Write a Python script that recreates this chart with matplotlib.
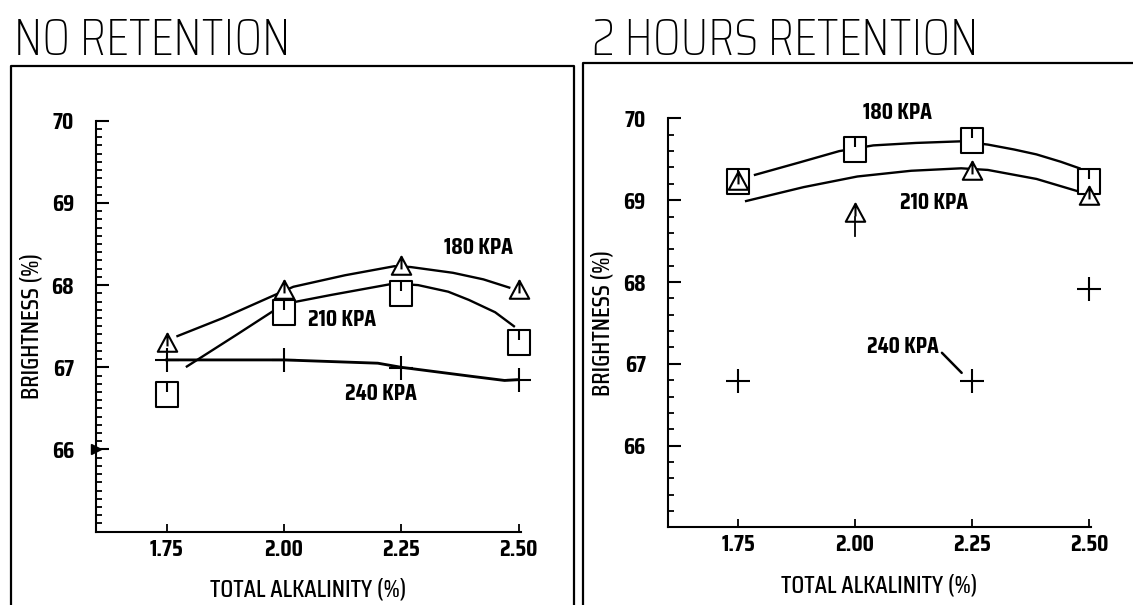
import matplotlib
matplotlib.use("Agg")
import matplotlib.pyplot as plt
from matplotlib import font_manager
from matplotlib.path import Path
from matplotlib.lines import Line2D
from matplotlib.ticker import MultipleLocator, FormatStrFormatter

# --- Measured brightness values (%) vs total alkalinity (%) ---
alkalinity = [1.75, 2.00, 2.25, 2.50]

# no retention
nr_180 = [67.30, 67.94, 68.23, 67.94]
nr_210 = [66.68, 67.67, 67.90, 67.31]
nr_240 = [67.09, 67.09, 66.99, 66.85]

# 2 hours retention (no 2.00 point for 240 kPa)
hr_180 = [69.23, 69.63, 69.74, 69.24]
hr_210 = [69.24, 68.84, 69.36, 69.05]
hr_240_x = [1.75, 2.25, 2.50]
hr_240 = [66.79, 66.79, 67.92]

# hand-drawn trend curves
nr_180_cx = [1.773, 1.87, 2.00, 2.02, 2.13, 2.235, 2.27, 2.36, 2.425, 2.48]
nr_180_cy = [67.38, 67.60, 67.93, 67.98, 68.12, 68.23, 68.22, 68.15, 68.07, 67.97]
nr_210_cx = [1.793, 1.90, 2.00, 2.10, 2.235, 2.286, 2.35, 2.394, 2.45, 2.49]
nr_210_cy = [67.01, 67.40, 67.77, 67.88, 68.02, 68.00, 67.92, 67.82, 67.67, 67.50]
nr_240_cx = [1.75, 1.95, 2.00, 2.20, 2.25, 2.40, 2.47, 2.50]
nr_240_cy = [67.09, 67.09, 67.09, 67.05, 67.00, 66.89, 66.84, 66.85]

hr_180_cx = [1.786, 1.88, 1.966, 2.039, 2.13, 2.227, 2.284, 2.34, 2.388, 2.44, 2.48]
hr_180_cy = [69.31, 69.46, 69.60, 69.67, 69.70, 69.72, 69.68, 69.62, 69.56, 69.47, 69.39]
hr_210_cx = [1.767, 1.89, 2.005, 2.12, 2.227, 2.284, 2.388, 2.488]
hr_210_cy = [68.99, 69.16, 69.29, 69.36, 69.39, 69.37, 69.26, 69.09]

titles = ["NO RETENTION", "2 HOURS RETENTION"]

# --- Fonts: condensed face if present, else shrink DejaVu ---
available = {f.name for f in font_manager.fontManager.ttflist}
if "Saira Condensed" in available:
    FONT, k = "Saira Condensed", 1.0
else:
    FONT, k = "DejaVu Sans", 0.8
plt.rcParams["font.family"] = [FONT, "DejaVu Sans"]

# plotter-style markers with a small pointer stroke
tri_marker = Path(
    [(-1, -0.85), (1, -0.85), (0, 1), (-1, -0.85), (0, 1), (0, -0.3)],
    [Path.MOVETO, Path.LINETO, Path.LINETO, Path.CLOSEPOLY, Path.MOVETO, Path.LINETO],
)
sq_marker = Path(
    [(-0.85, -1), (0.85, -1), (0.85, 1), (-0.85, 1), (-0.85, -1), (0, 1), (0, 0.15)],
    [Path.MOVETO, Path.LINETO, Path.LINETO, Path.LINETO, Path.CLOSEPOLY, Path.MOVETO, Path.LINETO],
)

LW = 1.7
tri_kw = dict(marker=tri_marker, ms=14, mfc="white", mec="black", mew=1.5, ls="none",
              zorder=4, clip_on=False)
sq_kw = dict(marker=sq_marker, ms=18, mfc="white", mec="black", mew=1.5, ls="none",
             zorder=3, clip_on=False)
plus_kw = dict(marker="+", ms=17, mec="black", mew=1.5, ls="none", zorder=4, clip_on=False)

fig = plt.figure(figsize=(11.33, 6.05), dpi=100)
ax1 = fig.add_axes([0.0850, 0.1212, 0.3748, 0.6792])
ax2 = fig.add_axes([0.5896, 0.1281, 0.3735, 0.6762])


def style_axes(ax, minor):
    ax.set_xlim(1.6, 2.505)
    ax.set_ylim(65, 70)
    ax.spines["top"].set_visible(False)
    ax.spines["right"].set_visible(False)
    for s in ("left", "bottom"):
        ax.spines[s].set_linewidth(1.5)
    ax.set_xticks(alkalinity)
    ax.xaxis.set_major_formatter(FormatStrFormatter("%.2f"))
    ax.set_yticks([66, 67, 68, 69, 70])
    ax.yaxis.set_minor_locator(MultipleLocator(minor))
    ax.tick_params(axis="y", which="major", direction="in", length=9, width=1.5, pad=16)
    ax.tick_params(axis="y", which="minor", direction="in", length=4, width=1.3)
    ax.tick_params(axis="x", which="major", direction="in", length=6, width=1.3, pad=5)
    for lab in ax.get_xticklabels() + ax.get_yticklabels():
        lab.set_fontsize(17 * k)
        lab.set_fontweight("bold")
    ax.set_xlabel("TOTAL ALKALINITY (%)", fontsize=18 * k, fontweight="medium", labelpad=12)
    ax.set_ylabel("BRIGHTNESS (%)", fontsize=18 * k, fontweight="medium", labelpad=6)


style_axes(ax1, 0.1)
style_axes(ax2, 0.2)

lab_kw = dict(fontsize=17 * k, fontweight="bold", ha="center", va="center")

# --- NO RETENTION ---
ax1.plot(nr_180_cx, nr_180_cy, color="black", lw=LW, zorder=2)
ax1.plot(nr_210_cx, nr_210_cy, color="black", lw=LW, zorder=2)
ax1.plot(nr_240_cx, nr_240_cy, color="black", lw=LW * 1.2, zorder=2)
ax1.plot(alkalinity, nr_210, **sq_kw)
ax1.plot(alkalinity, nr_180, **tri_kw)
ax1.plot(alkalinity, nr_240, **plus_kw)
ax1.plot([1.6], [66], marker=">", ms=7, color="black", clip_on=False, zorder=5)
ax1.text(2.414, 68.45, "180 KPA", **lab_kw)
ax1.text(2.124, 67.57, "210 KPA", **lab_kw)
ax1.text(2.206, 66.68, "240 KPA", **lab_kw)

# --- 2 HOURS RETENTION ---
ax2.plot(hr_180_cx, hr_180_cy, color="black", lw=LW, zorder=2)
ax2.plot(hr_210_cx, hr_210_cy, color="black", lw=LW, zorder=2)
ax2.plot(alkalinity, hr_180, **sq_kw)
ax2.plot(alkalinity, hr_210, **tri_kw)
ax2.plot([2.0, 2.0], [hr_210[1] - 0.05, hr_210[1] - 0.28], color="black", lw=1.3, zorder=4)
ax2.plot(hr_240_x, hr_240, **plus_kw)
ax2.text(2.09, 70.06, "180 KPA", **lab_kw)
ax2.text(2.17, 68.97, "210 KPA", **lab_kw)
ax2.annotate("240 KPA", xy=(2.228, 66.89), xytext=(2.103, 67.21),
             arrowprops=dict(arrowstyle="-", color="black", lw=1.8,
                             shrinkA=0, shrinkB=0, relpos=(1.0, 0.35)),
             **lab_kw)

# --- panel frames and headings ---
W, H = 1133, 605
frame_kw = dict(color="black", lw=1.6, transform=fig.transFigure)
for xs, ys in [
    ([11, 11, 574, 574], [612, 66, 66, 612]),
    ([583, 583, 1140], [612, 63, 63]),
]:
    fig.add_artist(Line2D([x / W for x in xs], [1 - y / H for y in ys], **frame_kw))

fig.text(14 / W, 1 - 55 / H, titles[0], fontsize=38 * k, fontweight="light",
         ha="left", va="baseline")
fig.text(592 / W, 1 - 55 / H, titles[1], fontsize=38 * k, fontweight="light",
         ha="left", va="baseline")

fig.savefig("out.png", dpi=100, facecolor="white")
